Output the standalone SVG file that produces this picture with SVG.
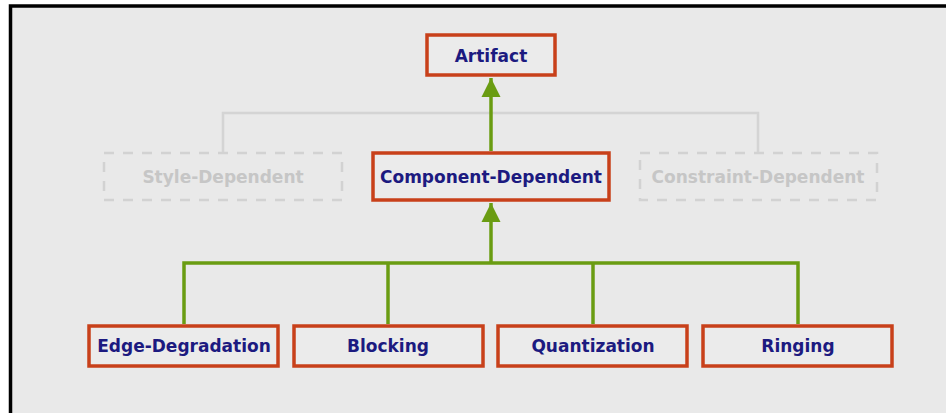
<svg xmlns="http://www.w3.org/2000/svg" width="946" height="413" viewBox="0 0 946 413">
  <defs>
    <style>
      .node rect { fill: #ebebeb; stroke: #c8401a; stroke-width: 3.5; }
      .node text { font-family: "DejaVu Sans", Verdana, sans-serif; font-weight: bold; font-size: 17px; fill: #1c1a80; text-anchor: middle; }
      .ghost rect { fill: none; stroke: #d2d2d2; stroke-width: 2.5; stroke-dasharray: 10 9; }
      .ghost text { font-family: "DejaVu Sans", Verdana, sans-serif; font-weight: bold; font-size: 17px; fill: #c6c6c6; text-anchor: middle; }
      .link { fill: none; stroke: #6a9c12; stroke-width: 3.5; }
      .ghostlink { fill: none; stroke: #d4d4d4; stroke-width: 2.5; }
    </style>
    <marker id="arrow" viewBox="0 0 10 10" refX="10" refY="5" markerUnits="userSpaceOnUse" markerWidth="19" markerHeight="20" orient="auto">
      <path d="M0,0 L10,5 L0,10 Z" fill="#6a9c12"/>
    </marker>
  </defs>

  <!-- frame -->
  <rect x="0" y="0" width="946" height="413" fill="#ffffff"/>
  <rect x="10.5" y="6" width="940" height="410" fill="#e9e9e9" stroke="#000000" stroke-width="3.5"/>

  <!-- connectors -->
  <g id="connectors">
    <polyline class="ghostlink" points="223,152 223,113 758,113 758,152"/>
    <line class="link" x1="491" y1="151" x2="491" y2="78" marker-end="url(#arrow)"/>
    <line class="link" x1="491" y1="263" x2="491" y2="203" marker-end="url(#arrow)"/>
    <polyline class="link" points="184,324 184,263 798,263 798,324"/>
    <line class="link" x1="388" y1="263" x2="388" y2="324"/>
    <line class="link" x1="593" y1="263" x2="593" y2="324"/>
  </g>

  <g id="artifact" class="node">
    <rect x="427" y="35" width="128" height="40"/>
    <text x="491" y="62">Artifact</text>
  </g>

  <g id="style-dependent" class="ghost">
    <rect x="104" y="153" width="238" height="47"/>
    <text x="223" y="183">Style-Dependent</text>
  </g>

  <g id="component-dependent" class="node">
    <rect x="373" y="153" width="236" height="47"/>
    <text x="491" y="183">Component-Dependent</text>
  </g>

  <g id="constraint-dependent" class="ghost">
    <rect x="640" y="153" width="237" height="47"/>
    <text x="758" y="183">Constraint-Dependent</text>
  </g>

  <g id="edge-degradation" class="node">
    <rect x="89" y="326" width="189" height="40"/>
    <text x="184" y="352">Edge-Degradation</text>
  </g>

  <g id="blocking" class="node">
    <rect x="294" y="326" width="189" height="40"/>
    <text x="388" y="352">Blocking</text>
  </g>

  <g id="quantization" class="node">
    <rect x="498" y="326" width="189" height="40"/>
    <text x="593" y="352">Quantization</text>
  </g>

  <g id="ringing" class="node">
    <rect x="703" y="326" width="189" height="40"/>
    <text x="798" y="352">Ringing</text>
  </g>
</svg>
